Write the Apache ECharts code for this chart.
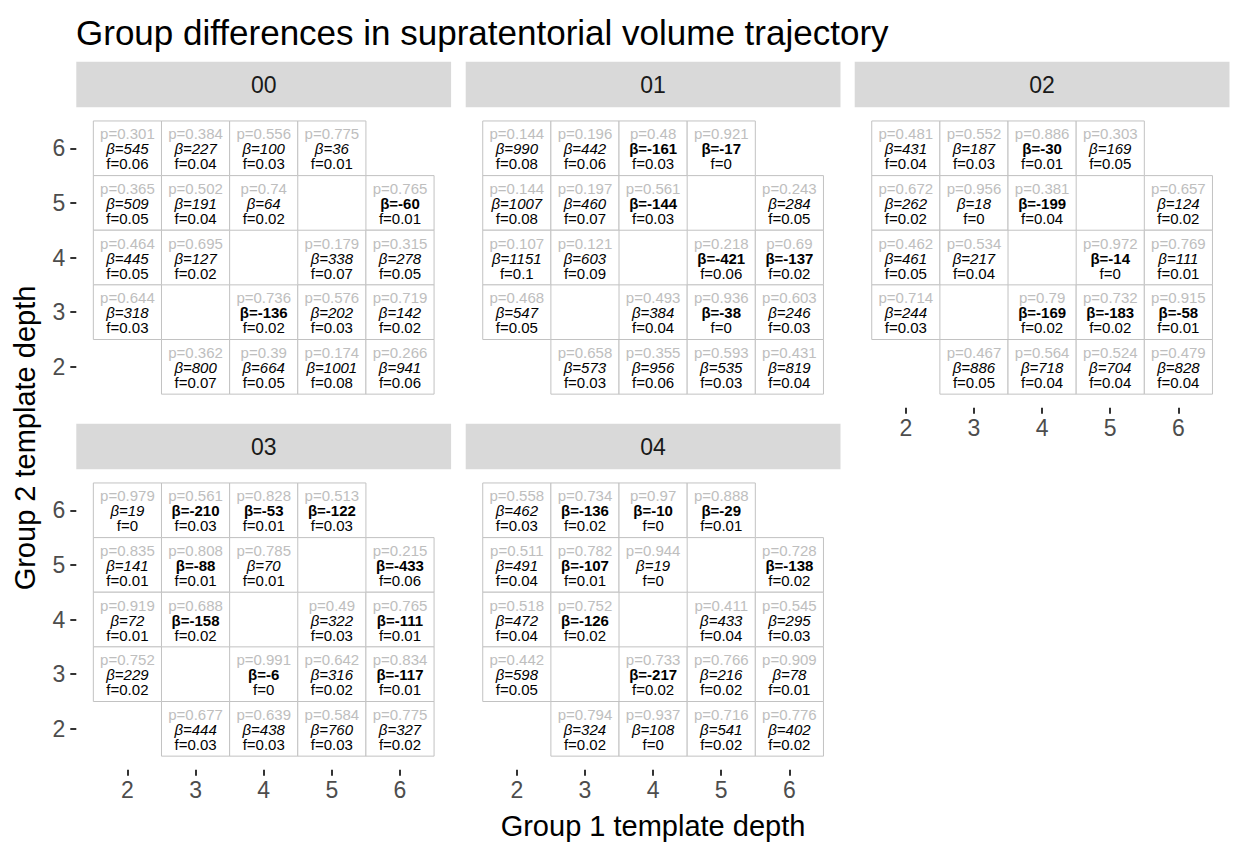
<!DOCTYPE html>
<html>
<head>
<meta charset="utf-8">
<script src="https://cdn.jsdelivr.net/npm/echarts@6/dist/echarts.min.js"></script>
<style>
  html, body { margin: 0; padding: 0; background: #ffffff; }
  #chart { width: 1233px; height: 846px; }
</style>
</head>
<body>
<div id="chart"></div>
<script>
// Facet labels and the template-depth pairs of every cell (same layout in each facet)
const facets = ['00', '01', '02', '03', '04'];
const group1Depth = [2, 3, 4, 5, 2, 3, 4, 6, 2, 3, 5, 6, 2, 4, 5, 6, 3, 4, 5, 6];
const group2Depth = [6, 6, 6, 6, 5, 5, 5, 5, 4, 4, 4, 4, 3, 3, 3, 3, 2, 2, 2, 2];
const depthTicks = [2, 3, 4, 5, 6];

// Facet 00
const p00 = [0.301, 0.384, 0.556, 0.775, 0.365, 0.502, 0.74, 0.765, 0.464, 0.695, 0.179, 0.315, 0.644, 0.736, 0.576, 0.719, 0.362, 0.39, 0.174, 0.266];
const beta00 = [545, 227, 100, 36, 509, 191, 64, -60, 445, 127, 338, 278, 318, -136, 202, 142, 800, 664, 1001, 941];
const f00 = [0.06, 0.04, 0.03, 0.01, 0.05, 0.04, 0.02, 0.01, 0.05, 0.02, 0.07, 0.05, 0.03, 0.02, 0.03, 0.02, 0.07, 0.05, 0.08, 0.06];

// Facet 01
const p01 = [0.144, 0.196, 0.48, 0.921, 0.144, 0.197, 0.561, 0.243, 0.107, 0.121, 0.218, 0.69, 0.468, 0.493, 0.936, 0.603, 0.658, 0.355, 0.593, 0.431];
const beta01 = [990, 442, -161, -17, 1007, 460, -144, 284, 1151, 603, -421, -137, 547, 384, -38, 246, 573, 956, 535, 819];
const f01 = [0.08, 0.06, 0.03, 0, 0.08, 0.07, 0.03, 0.05, 0.1, 0.09, 0.06, 0.02, 0.05, 0.04, 0, 0.03, 0.03, 0.06, 0.03, 0.04];

// Facet 02
const p02 = [0.481, 0.552, 0.886, 0.303, 0.672, 0.956, 0.381, 0.657, 0.462, 0.534, 0.972, 0.769, 0.714, 0.79, 0.732, 0.915, 0.467, 0.564, 0.524, 0.479];
const beta02 = [431, 187, -30, 169, 262, 18, -199, 124, 461, 217, -14, 111, 244, -169, -183, -58, 886, 718, 704, 828];
const f02 = [0.04, 0.03, 0.01, 0.05, 0.02, 0, 0.04, 0.02, 0.05, 0.04, 0, 0.01, 0.03, 0.02, 0.02, 0.01, 0.05, 0.04, 0.04, 0.04];

// Facet 03
const p03 = [0.979, 0.561, 0.828, 0.513, 0.835, 0.808, 0.785, 0.215, 0.919, 0.688, 0.49, 0.765, 0.752, 0.991, 0.642, 0.834, 0.677, 0.639, 0.584, 0.775];
const beta03 = [19, -210, -53, -122, 141, -88, 70, -433, 72, -158, 322, -111, 229, -6, 316, -117, 444, 438, 760, 327];
const f03 = [0, 0.03, 0.01, 0.03, 0.01, 0.01, 0.01, 0.06, 0.01, 0.02, 0.03, 0.01, 0.02, 0, 0.02, 0.01, 0.03, 0.03, 0.03, 0.02];

// Facet 04
const p04 = [0.558, 0.734, 0.97, 0.888, 0.511, 0.782, 0.944, 0.728, 0.518, 0.752, 0.411, 0.545, 0.442, 0.733, 0.766, 0.909, 0.794, 0.937, 0.716, 0.776];
const beta04 = [462, -136, -10, -29, 491, -107, 19, -138, 472, -126, 433, 295, 598, -217, 216, 78, 324, 108, 541, 402];
const f04 = [0.03, 0.02, 0, 0.01, 0.04, 0.01, 0, 0.02, 0.04, 0.02, 0.04, 0.03, 0.05, 0.02, 0.02, 0.01, 0.02, 0, 0.02, 0.02];

const pByFacet = [p00, p01, p02, p03, p04];
const betaByFacet = [beta00, beta01, beta02, beta03, beta04];
const fByFacet = [f00, f01, f02, f03, f04];

const FONT = '"Liberation Sans", Arial, Helvetica, sans-serif';
const CELL_FONT = 15;
const CELL_LINE = 15;

// Panel geometry (3 columns x 2 rows of facets)
const colLeft = [76.3, 465.7, 854.7];
const rowTop = [107.3, 469.3];
const panelW = 374.8;
const panelH = 300.5;
const stripH = 45.5;

const grids = [], xAxes = [], yAxes = [], series = [], graphics = [];

facets.forEach((name, i) => {
  const col = i % 3, row = Math.floor(i / 3);
  const showX = row === 1 || i === 2;
  const showY = col === 0;
  grids.push({
    left: colLeft[col], top: rowTop[row], width: panelW, height: panelH,
    outerBoundsMode: 'none', containLabel: false
  });
  const axisCommon = {
    gridIndex: i, type: 'value', min: 1.25, max: 6.75,
    axisLine: { show: false },
    splitLine: { show: false }
  };
  const tickStyle = { color: '#333333', width: 2 };
  xAxes.push(Object.assign({}, axisCommon, {
    axisTick: { show: showX, customValues: depthTicks, length: 6, lineStyle: tickStyle },
    axisLabel: { show: showX, customValues: depthTicks, color: '#4D4D4D', fontSize: 23, fontFamily: FONT, margin: 9 }
  }));
  yAxes.push(Object.assign({}, axisCommon, {
    axisTick: { show: showY, customValues: depthTicks, length: 6, lineStyle: tickStyle },
    axisLabel: { show: showY, customValues: depthTicks, color: '#4D4D4D', fontSize: 23, fontFamily: FONT, margin: 11 }
  }));

  const p = pByFacet[i], beta = betaByFacet[i], f = fByFacet[i];
  const data = group1Depth.map((g1, k) => [g1, group2Depth[k], p[k], beta[k], f[k]]);

  series.push({
    type: 'custom',
    xAxisIndex: i, yAxisIndex: i,
    data: data,
    encode: { x: 0, y: 1 },
    silent: true,
    renderItem: (params, api) => {
      const x = api.value(0), y = api.value(1);
      const b = api.value(3);
      const tl = api.coord([x - 0.5, y + 0.5]);
      const br = api.coord([x + 0.5, y - 0.5]);
      const c = api.coord([x, y]);
      const betaTag = b < 0 ? 'bn' : 'bp';
      return {
        type: 'group',
        children: [
          {
            type: 'rect',
            shape: { x: tl[0], y: tl[1], width: br[0] - tl[0], height: br[1] - tl[1] },
            style: { fill: '#FFFFFF', stroke: '#C2C2C2', lineWidth: 1 }
          },
          {
            type: 'text',
            x: c[0], y: c[1] + 0.5,
            style: {
              text: '{p|p=' + String(api.value(2)) + '}\n{' + betaTag + '|β=' + String(b) + '}\n{f|f=' + String(api.value(4)) + '}',
              align: 'center', verticalAlign: 'middle',
              rich: {
                p: { fontSize: CELL_FONT, lineHeight: CELL_LINE, fill: '#BEBEBE', fontFamily: FONT },
                bp: { fontSize: CELL_FONT, lineHeight: CELL_LINE, fill: '#000000', fontStyle: 'italic', fontFamily: FONT },
                bn: { fontSize: CELL_FONT, lineHeight: CELL_LINE, fill: '#000000', fontWeight: 'bold', fontFamily: FONT },
                f: { fontSize: CELL_FONT, lineHeight: CELL_LINE, fill: '#000000', fontFamily: FONT }
              }
            }
          }
        ]
      };
    }
  });

  // Facet strip
  graphics.push({
    type: 'rect',
    shape: { x: colLeft[col], y: rowTop[row] - stripH, width: panelW, height: stripH },
    style: { fill: '#D9D9D9' },
    silent: true
  });
  graphics.push({
    type: 'text',
    x: colLeft[col] + panelW / 2, y: rowTop[row] - stripH / 2,
    style: {
      text: name, fill: '#1A1A1A', fontSize: 23, fontFamily: FONT,
      align: 'center', verticalAlign: 'middle', textAlign: 'center', textVerticalAlign: 'middle'
    },
    silent: true
  });
});

// Shared axis titles
graphics.push({
  type: 'text',
  x: 653, y: 826,
  style: {
    text: 'Group 1 template depth', fill: '#000000', fontSize: 29, fontFamily: FONT,
    align: 'center', verticalAlign: 'middle', textAlign: 'center', textVerticalAlign: 'middle'
  }
});
graphics.push({
  type: 'text',
  x: 25, y: 438,
  rotation: Math.PI / 2,
  style: {
    text: 'Group 2 template depth', fill: '#000000', fontSize: 29, fontFamily: FONT,
    align: 'center', verticalAlign: 'middle', textAlign: 'center', textVerticalAlign: 'middle'
  }
});

const chart = echarts.init(document.getElementById('chart'), null, { renderer: 'svg', width: 1233, height: 846 });
chart.setOption({
  backgroundColor: '#FFFFFF',
  animation: false,
  title: {
    text: 'Group differences in supratentorial volume trajectory',
    left: 71, top: 10,
    textStyle: { fontSize: 35, fontWeight: 'normal', color: '#000000', fontFamily: FONT }
  },
  grid: grids,
  xAxis: xAxes,
  yAxis: yAxes,
  series: series,
  graphic: { elements: graphics }
});
</script>
</body>
</html>
